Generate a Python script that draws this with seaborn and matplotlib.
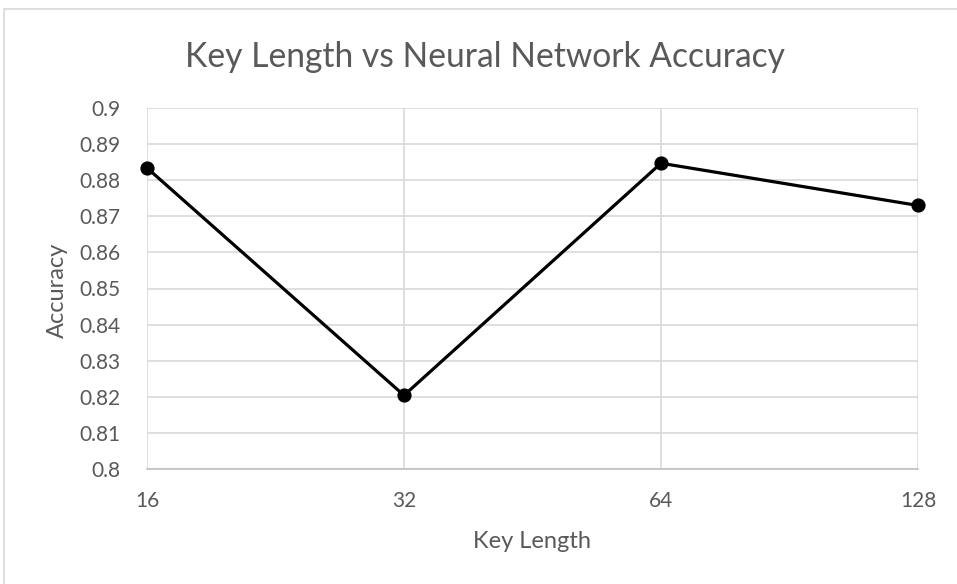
import matplotlib
matplotlib.use("Agg")
import matplotlib.pyplot as plt
import seaborn as sns
import pandas as pd
from matplotlib.patches import Rectangle

key_lengths = ["16", "32", "64", "128"]
accuracy = [0.8834, 0.8204, 0.8847, 0.8730]
y_ticks = [0.8, 0.81, 0.82, 0.83, 0.84, 0.85, 0.86, 0.87, 0.88, 0.89, 0.9]
y_tick_labels = ["0.8", "0.81", "0.82", "0.83", "0.84", "0.85", "0.86", "0.87", "0.88", "0.89", "0.9"]

sns.set_style("white")
plt.rcParams["font.family"] = ["Lato", "DejaVu Sans"]

text_color = "#595959"
grid_color = "#d9d9d9"

df = pd.DataFrame({"Key Length": key_lengths, "Accuracy": accuracy})

W, H = 957, 584
fig = plt.figure(figsize=(W / 100, H / 100), dpi=100)
ax = fig.add_axes([147 / W, 1 - 469 / H, (918 - 147) / W, (469 - 108) / H])

# outer chart frame (top and left edges visible)
fig.patches.append(Rectangle((4 / W, -0.2), 1.2, 1.2 - 9 / H, transform=fig.transFigure,
                             fill=False, edgecolor="#d9d9d9", linewidth=1.2))

sns.pointplot(data=df, x="Key Length", y="Accuracy", order=key_lengths, color="black",
              markers="o", markersize=8.5, linewidth=2.3, ax=ax, errorbar=None)
for artist in ax.lines + ax.collections:
    artist.set_clip_on(False)

ax.set_xlim(0, len(key_lengths) - 1)
ax.set_ylim(0.8, 0.9)
ax.set_yticks(y_ticks)
ax.set_yticklabels(y_tick_labels)
ax.grid(True, color=grid_color, linewidth=1.2)
ax.set_axisbelow(True)
for side in ["top", "right", "left"]:
    ax.spines[side].set_visible(False)
ax.spines["bottom"].set_color("#bfbfbf")
ax.spines["bottom"].set_linewidth(1.2)
ax.tick_params(axis="both", length=0, colors=text_color, labelsize=15)
ax.tick_params(axis="x", pad=16)
ax.tick_params(axis="y", pad=19)

ax.set_xlabel("Key Length", fontsize=17, color=text_color)
ax.xaxis.label.set_va("center")
ax.xaxis.set_label_coords((532 - 147) / 771, -(542 - 469) / 361)
ax.set_ylabel("Accuracy", fontsize=17, color=text_color)
ax.yaxis.label.set_va("center")
ax.yaxis.set_label_coords((57 - 147) / 771, (469 - 290) / 361)

fig.text(485 / W, 1 - 57 / H, "Key Length vs Neural Network Accuracy",
         ha="center", va="center", fontsize=24.2, color=text_color)

fig.savefig("out.png", dpi=100)
